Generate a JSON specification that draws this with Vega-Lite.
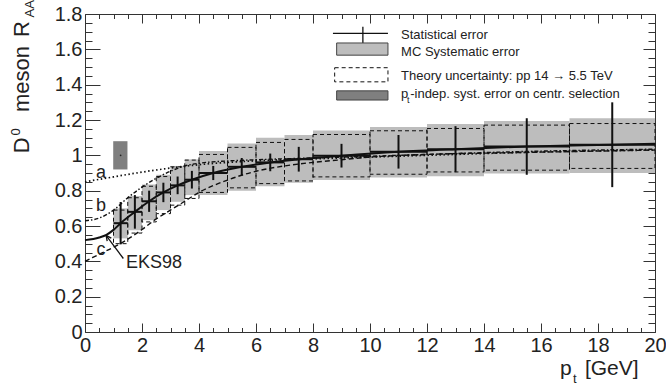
{
 "$schema": "https://vega.github.io/schema/vega-lite/v6.json",
 "width": 570, "height": 318,
 "autosize": {"type": "none"},
 "padding": {"left": 85, "top": 14, "right": 11, "bottom": 53},
 "background": "white",
 "config": {"view": {"stroke": "#333", "strokeWidth": 1}, "font": "Liberation Sans"},
 "datasets": {
  "bins": [
   {"lo":1,"hi":1.5,"pt":1.25,"val":0.616,"statLo":0.496,"statHi":0.736,"mcLo":0.53,"mcHi":0.70,"thLo":0.50,"thHi":0.69},
   {"lo":1.5,"hi":2,"pt":1.75,"val":0.68,"statLo":0.585,"statHi":0.775,"mcLo":0.576,"mcHi":0.77,"thLo":0.56,"thHi":0.76},
   {"lo":2,"hi":2.5,"pt":2.25,"val":0.74,"statLo":0.68,"statHi":0.80,"mcLo":0.633,"mcHi":0.835,"thLo":0.623,"thHi":0.825},
   {"lo":2.5,"hi":3,"pt":2.75,"val":0.79,"statLo":0.735,"statHi":0.845,"mcLo":0.69,"mcHi":0.89,"thLo":0.67,"thHi":0.88},
   {"lo":3,"hi":3.5,"pt":3.25,"val":0.83,"statLo":0.78,"statHi":0.88,"mcLo":0.737,"mcHi":0.94,"thLo":0.718,"thHi":0.935},
   {"lo":3.5,"hi":4,"pt":3.75,"val":0.862,"statLo":0.812,"statHi":0.912,"mcLo":0.775,"mcHi":0.977,"thLo":0.756,"thHi":0.973},
   {"lo":4,"hi":5,"pt":4.5,"val":0.90,"statLo":0.86,"statHi":0.94,"mcLo":0.775,"mcHi":1.024,"thLo":0.79,"thHi":1.005},
   {"lo":5,"hi":6,"pt":5.5,"val":0.935,"statLo":0.885,"statHi":0.985,"mcLo":0.80,"mcHi":1.067,"thLo":0.816,"thHi":1.045},
   {"lo":6,"hi":7,"pt":6.5,"val":0.96,"statLo":0.91,"statHi":1.01,"mcLo":0.825,"mcHi":1.10,"thLo":0.84,"thHi":1.073},
   {"lo":7,"hi":8,"pt":7.5,"val":0.978,"statLo":0.908,"statHi":1.048,"mcLo":0.845,"mcHi":1.115,"thLo":0.855,"thHi":1.09},
   {"lo":8,"hi":10,"pt":9,"val":0.998,"statLo":0.931,"statHi":1.065,"mcLo":0.86,"mcHi":1.14,"thLo":0.878,"thHi":1.118},
   {"lo":10,"hi":12,"pt":11,"val":1.02,"statLo":0.925,"statHi":1.115,"mcLo":0.875,"mcHi":1.16,"thLo":0.893,"thHi":1.139},
   {"lo":12,"hi":14,"pt":13,"val":1.035,"statLo":0.905,"statHi":1.165,"mcLo":0.882,"mcHi":1.177,"thLo":0.906,"thHi":1.152},
   {"lo":14,"hi":17,"pt":15.5,"val":1.05,"statLo":0.89,"statHi":1.21,"mcLo":0.897,"mcHi":1.195,"thLo":0.916,"thHi":1.171},
   {"lo":17,"hi":20,"pt":18.5,"val":1.06,"statLo":0.82,"statHi":1.30,"mcLo":0.90,"mcHi":1.21,"thLo":0.926,"thHi":1.18}
  ],
  "curves": [
   {"c":"EKS98","pt":0,"r":0.52},{"c":"EKS98","pt":0.5,"r":0.535},{"c":"EKS98","pt":0.75,"r":0.55},{"c":"EKS98","pt":1,"r":0.578},{"c":"EKS98","pt":1.25,"r":0.616},{"c":"EKS98","pt":1.75,"r":0.68},{"c":"EKS98","pt":2.25,"r":0.74},{"c":"EKS98","pt":2.75,"r":0.79},{"c":"EKS98","pt":3.25,"r":0.83},{"c":"EKS98","pt":3.75,"r":0.862},{"c":"EKS98","pt":4.5,"r":0.90},{"c":"EKS98","pt":5.5,"r":0.935},{"c":"EKS98","pt":6.5,"r":0.96},{"c":"EKS98","pt":7.5,"r":0.978},{"c":"EKS98","pt":9,"r":0.998},{"c":"EKS98","pt":11,"r":1.02},{"c":"EKS98","pt":13,"r":1.035},{"c":"EKS98","pt":15.5,"r":1.05},{"c":"EKS98","pt":18.5,"r":1.06},{"c":"EKS98","pt":20,"r":1.065},
   {"c":"a","pt":0,"r":0.85},{"c":"a","pt":1,"r":0.878},{"c":"a","pt":2,"r":0.905},{"c":"a","pt":3,"r":0.928},{"c":"a","pt":4,"r":0.947},{"c":"a","pt":5,"r":0.96},{"c":"a","pt":6,"r":0.969},{"c":"a","pt":8,"r":0.98},{"c":"a","pt":10,"r":0.99},{"c":"a","pt":12,"r":1.0},{"c":"a","pt":15,"r":1.015},{"c":"a","pt":20,"r":1.03},
   {"c":"b","pt":0,"r":0.63},{"c":"b","pt":0.5,"r":0.645},{"c":"b","pt":1,"r":0.69},{"c":"b","pt":1.5,"r":0.76},{"c":"b","pt":2,"r":0.82},{"c":"b","pt":2.5,"r":0.87},{"c":"b","pt":3,"r":0.91},{"c":"b","pt":3.5,"r":0.94},{"c":"b","pt":4,"r":0.955},{"c":"b","pt":5,"r":0.968},{"c":"b","pt":6,"r":0.975},{"c":"b","pt":8,"r":0.985},{"c":"b","pt":10,"r":0.995},{"c":"b","pt":12,"r":1.005},{"c":"b","pt":15,"r":1.02},{"c":"b","pt":20,"r":1.035},
   {"c":"c","pt":0,"r":0.40},{"c":"c","pt":0.5,"r":0.44},{"c":"c","pt":1,"r":0.48},{"c":"c","pt":1.5,"r":0.525},{"c":"c","pt":2,"r":0.58},{"c":"c","pt":2.5,"r":0.64},{"c":"c","pt":3,"r":0.69},{"c":"c","pt":3.5,"r":0.74},{"c":"c","pt":4,"r":0.79},{"c":"c","pt":5,"r":0.86},{"c":"c","pt":6,"r":0.91},{"c":"c","pt":7,"r":0.94},{"c":"c","pt":8,"r":0.96},{"c":"c","pt":9,"r":0.975},{"c":"c","pt":10,"r":0.99},{"c":"c","pt":12,"r":1.005},{"c":"c","pt":15,"r":1.015},{"c":"c","pt":20,"r":1.03}
  ]
 },
 "layer": [
  {"data": {"name": "bins"},
   "mark": {"type": "rect", "fill": "#bdbdbd"},
   "encoding": {
    "x": {"field": "lo", "type": "quantitative", "scale": {"domain": [0, 20], "nice": false, "zero": false},
      "axis": {"orient": "bottom", "values": [0,2,4,6,8,10,12,14,16,18,20], "tickSize": -9, "tickColor": "#333", "domain": false, "grid": false, "title": null, "format": "~g", "labelFontSize": 20, "labelFont": "Liberation Sans", "labelColor": "#222", "labelPadding": 12, "labelFlush": false, "labelOverlap": false}},
    "x2": {"field": "hi"},
    "y": {"field": "mcLo", "type": "quantitative", "scale": {"domain": [0, 1.8], "nice": false, "zero": false},
      "axis": {"orient": "left", "values": [0,0.2,0.4,0.6,0.8,1,1.2,1.4,1.6,1.8], "tickSize": -15, "tickColor": "#333", "domain": false, "grid": false, "title": null, "format": "~g", "labelFontSize": 20, "labelFont": "Liberation Sans", "labelColor": "#222", "labelPadding": 18, "labelFlush": false, "labelOverlap": false}},
    "y2": {"field": "mcHi"}
   }},
  {"data": {"values": [{"x1": 0.99, "x2": 1.49, "y1": 0.92, "y2": 1.08}]},
   "mark": {"type": "rect", "fill": "#7f7f7f"},
   "encoding": {
    "x": {"field": "x1", "type": "quantitative", "scale": {"domain": [0, 20], "nice": false, "zero": false}, "axis": null},
    "x2": {"field": "x2"},
    "y": {"field": "y1", "type": "quantitative", "scale": {"domain": [0, 1.8], "nice": false, "zero": false}, "axis": null},
    "y2": {"field": "y2"}
   }},
  {"data": {"values": [{"x": 1.25, "y": 1.0}]},
   "mark": {"type": "point", "filled": true, "size": 3, "color": "#222", "opacity": 1},
   "encoding": {
    "x": {"field": "x", "type": "quantitative", "scale": {"domain": [0, 20], "nice": false, "zero": false}, "axis": null},
    "y": {"field": "y", "type": "quantitative", "scale": {"domain": [0, 1.8], "nice": false, "zero": false}, "axis": null}
   }},
  {"data": {"name": "bins"},
   "mark": {"type": "rect", "fillOpacity": 0, "stroke": "#111", "strokeWidth": 1, "strokeDash": [4, 3]},
   "encoding": {
    "x": {"field": "lo", "type": "quantitative", "scale": {"domain": [0, 20], "nice": false, "zero": false},
      "axis": {"orient": "bottom", "values": [0.5,1,1.5,2.5,3,3.5,4.5,5,5.5,6.5,7,7.5,8.5,9,9.5,10.5,11,11.5,12.5,13,13.5,14.5,15,15.5,16.5,17,17.5,18.5,19,19.5], "tickSize": -4.5, "tickColor": "#333", "labels": false, "domain": false, "grid": false, "title": null}},
    "x2": {"field": "hi"},
    "y": {"field": "thLo", "type": "quantitative", "scale": {"domain": [0, 1.8], "nice": false, "zero": false},
      "axis": {"orient": "left", "values": [0.05,0.1,0.15,0.25,0.3,0.35,0.45,0.5,0.55,0.65,0.7,0.75,0.85,0.9,0.95,1.05,1.1,1.15,1.25,1.3,1.35,1.45,1.5,1.55,1.65,1.7,1.75], "tickSize": -7, "tickColor": "#333", "labels": false, "domain": false, "grid": false, "title": null}},
    "y2": {"field": "thHi"}
   }},
  {"data": {"name": "curves"},
   "transform": [{"filter": "datum.c === 'a'"}],
   "mark": {"type": "line", "color": "#111", "strokeWidth": 1.7, "strokeDash": [1.5, 2.5], "interpolate": "monotone"},
   "encoding": {
    "x": {"field": "pt", "type": "quantitative", "scale": {"domain": [0, 20], "nice": false, "zero": false}, "axis": null},
    "y": {"field": "r", "type": "quantitative", "scale": {"domain": [0, 1.8], "nice": false, "zero": false}, "axis": null}
   }},
  {"data": {"name": "curves"},
   "transform": [{"filter": "datum.c === 'b'"}],
   "mark": {"type": "line", "color": "#111", "strokeWidth": 1.4, "strokeDash": [4, 2, 1.5, 2], "interpolate": "monotone"},
   "encoding": {
    "x": {"field": "pt", "type": "quantitative", "scale": {"domain": [0, 20], "nice": false, "zero": false}, "axis": null},
    "y": {"field": "r", "type": "quantitative", "scale": {"domain": [0, 1.8], "nice": false, "zero": false}, "axis": null}
   }},
  {"data": {"name": "curves"},
   "transform": [{"filter": "datum.c === 'c'"}],
   "mark": {"type": "line", "color": "#111", "strokeWidth": 1.4, "strokeDash": [5, 3], "interpolate": "monotone"},
   "encoding": {
    "x": {"field": "pt", "type": "quantitative", "scale": {"domain": [0, 20], "nice": false, "zero": false}, "axis": null},
    "y": {"field": "r", "type": "quantitative", "scale": {"domain": [0, 1.8], "nice": false, "zero": false}, "axis": null}
   }},
  {"data": {"name": "curves"},
   "transform": [{"filter": "datum.c === 'EKS98'"}],
   "mark": {"type": "line", "color": "#111", "strokeWidth": 2, "interpolate": "monotone"},
   "encoding": {
    "x": {"field": "pt", "type": "quantitative", "scale": {"domain": [0, 20], "nice": false, "zero": false}, "axis": null},
    "y": {"field": "r", "type": "quantitative", "scale": {"domain": [0, 1.8], "nice": false, "zero": false}, "axis": null}
   }},
  {"data": {"name": "bins"},
   "mark": {"type": "rule", "color": "#111", "strokeWidth": 2},
   "encoding": {
    "x": {"field": "pt", "type": "quantitative", "scale": {"domain": [0, 20], "nice": false, "zero": false},
      "axis": {"orient": "top", "values": [0,2,4,6,8,10,12,14,16,18,20], "tickSize": -9, "tickColor": "#333", "labels": false, "domain": false, "grid": false, "title": null}},
    "y": {"field": "statLo", "type": "quantitative", "scale": {"domain": [0, 1.8], "nice": false, "zero": false},
      "axis": {"orient": "right", "values": [0,0.2,0.4,0.6,0.8,1,1.2,1.4,1.6,1.8], "tickSize": -12, "tickColor": "#333", "labels": false, "domain": false, "grid": false, "title": null}},
    "y2": {"field": "statHi"}
   }},
  {"data": {"name": "bins"},
   "mark": {"type": "rule", "color": "#111", "strokeWidth": 2},
   "encoding": {
    "x": {"field": "lo", "type": "quantitative", "scale": {"domain": [0, 20], "nice": false, "zero": false},
      "axis": {"orient": "top", "values": [0.5,1,1.5,2.5,3,3.5,4.5,5,5.5,6.5,7,7.5,8.5,9,9.5,10.5,11,11.5,12.5,13,13.5,14.5,15,15.5,16.5,17,17.5,18.5,19,19.5], "tickSize": -4.5, "tickColor": "#333", "labels": false, "domain": false, "grid": false, "title": null}},
    "x2": {"field": "hi"},
    "y": {"field": "val", "type": "quantitative", "scale": {"domain": [0, 1.8], "nice": false, "zero": false},
      "axis": {"orient": "right", "values": [0.05,0.1,0.15,0.25,0.3,0.35,0.45,0.5,0.55,0.65,0.7,0.75,0.85,0.9,0.95,1.05,1.1,1.15,1.25,1.3,1.35,1.45,1.5,1.55,1.65,1.7,1.75], "tickSize": -7, "tickColor": "#333", "labels": false, "domain": false, "grid": false, "title": null}}
   }},
  {"data": {"values": [
     {"x1": 8.70, "x2": 10.63, "y1": 1.69, "y2": 1.69},
     {"x1": 9.75, "x2": 9.75, "y1": 1.728, "y2": 1.634},
     {"x1": 1.345, "x2": 0.74, "y1": 0.416, "y2": 0.547},
     {"x1": 0.74, "x2": 0.779, "y1": 0.547, "y2": 0.514},
     {"x1": 0.74, "x2": 0.923, "y1": 0.547, "y2": 0.531}
   ]},
   "mark": {"type": "rule", "color": "#111", "strokeWidth": 1.3},
   "encoding": {
    "x": {"field": "x1", "type": "quantitative", "scale": {"domain": [0, 20], "nice": false, "zero": false}, "axis": null},
    "x2": {"field": "x2"},
    "y": {"field": "y1", "type": "quantitative", "scale": {"domain": [0, 1.8], "nice": false, "zero": false}, "axis": null},
    "y2": {"field": "y2"}
   }},
  {"data": {"values": [{"x1": 8.83, "x2": 10.63, "y1": 1.567, "y2": 1.636}]},
   "mark": {"type": "rect", "fill": "#bdbdbd", "stroke": "#444", "strokeWidth": 1},
   "encoding": {
    "x": {"field": "x1", "type": "quantitative", "scale": {"domain": [0, 20], "nice": false, "zero": false}, "axis": null},
    "x2": {"field": "x2"},
    "y": {"field": "y1", "type": "quantitative", "scale": {"domain": [0, 1.8], "nice": false, "zero": false}, "axis": null},
    "y2": {"field": "y2"}
   }},
  {"data": {"values": [{"x1": 8.76, "x2": 10.63, "y1": 1.416, "y2": 1.496}]},
   "mark": {"type": "rect", "fill": "white", "stroke": "#111", "strokeWidth": 1, "strokeDash": [4, 3]},
   "encoding": {
    "x": {"field": "x1", "type": "quantitative", "scale": {"domain": [0, 20], "nice": false, "zero": false}, "axis": null},
    "x2": {"field": "x2"},
    "y": {"field": "y1", "type": "quantitative", "scale": {"domain": [0, 1.8], "nice": false, "zero": false}, "axis": null},
    "y2": {"field": "y2"}
   }},
  {"data": {"values": [{"x1": 8.83, "x2": 10.63, "y1": 1.313, "y2": 1.365}]},
   "mark": {"type": "rect", "fill": "#7f7f7f", "stroke": "#444", "strokeWidth": 1},
   "encoding": {
    "x": {"field": "x1", "type": "quantitative", "scale": {"domain": [0, 20], "nice": false, "zero": false}, "axis": null},
    "x2": {"field": "x2"},
    "y": {"field": "y1", "type": "quantitative", "scale": {"domain": [0, 1.8], "nice": false, "zero": false}, "axis": null},
    "y2": {"field": "y2"}
   }},
  {"data": {"values": [
     {"t": "Statistical error", "x": 11.09, "y": 1.68},
     {"t": "MC Systematic error", "x": 11.09, "y": 1.585},
     {"t": "Theory uncertainty: pp 14 → 5.5 TeV", "x": 11.09, "y": 1.449},
     {"t": "p", "x": 11.09, "y": 1.347},
     {"t": "-indep. syst. error on centr. selection", "x": 11.41, "y": 1.347}
   ]},
   "mark": {"type": "text", "align": "left", "baseline": "middle", "fontSize": 13, "font": "Liberation Sans", "color": "#222"},
   "encoding": {
    "x": {"field": "x", "type": "quantitative", "scale": {"domain": [0, 20], "nice": false, "zero": false}, "axis": null},
    "y": {"field": "y", "type": "quantitative", "scale": {"domain": [0, 1.8], "nice": false, "zero": false}, "axis": null},
    "text": {"field": "t"}
   }},
  {"data": {"values": [{"t": "t", "x": 11.30, "y": 1.316}]},
   "mark": {"type": "text", "align": "left", "baseline": "middle", "fontSize": 9, "font": "Liberation Sans", "color": "#222"},
   "encoding": {
    "x": {"field": "x", "type": "quantitative", "scale": {"domain": [0, 20], "nice": false, "zero": false}, "axis": null},
    "y": {"field": "y", "type": "quantitative", "scale": {"domain": [0, 1.8], "nice": false, "zero": false}, "axis": null},
    "text": {"field": "t"}
   }},
  {"data": {"values": [
     {"t": "a", "x": 0.56, "y": 0.90},
     {"t": "b", "x": 0.56, "y": 0.711},
     {"t": "c", "x": 0.56, "y": 0.462}
   ]},
   "mark": {"type": "text", "align": "center", "baseline": "middle", "fontSize": 18, "font": "Liberation Sans", "color": "#222"},
   "encoding": {
    "x": {"field": "x", "type": "quantitative", "scale": {"domain": [0, 20], "nice": false, "zero": false}, "axis": null},
    "y": {"field": "y", "type": "quantitative", "scale": {"domain": [0, 1.8], "nice": false, "zero": false}, "axis": null},
    "text": {"field": "t"}
   }},
  {"data": {"values": [
     {"t": "EKS98", "x": 1.44, "y": 0.389}
   ]},
   "mark": {"type": "text", "align": "left", "baseline": "middle", "fontSize": 18, "font": "Liberation Sans", "color": "#222"},
   "encoding": {
    "x": {"field": "x", "type": "quantitative", "scale": {"domain": [0, 20], "nice": false, "zero": false}, "axis": null},
    "y": {"field": "y", "type": "quantitative", "scale": {"domain": [0, 1.8], "nice": false, "zero": false}, "axis": null},
    "text": {"field": "t"}
   }},
  {"data": {"values": [
     {"t": "p", "x": 16.67, "y": -0.245},
     {"t": "[GeV]", "x": 17.54, "y": -0.245}
   ]},
   "mark": {"type": "text", "align": "left", "baseline": "alphabetic", "fontSize": 21, "font": "Liberation Sans", "color": "#222"},
   "encoding": {
    "x": {"field": "x", "type": "quantitative", "scale": {"domain": [0, 20], "nice": false, "zero": false}, "axis": null},
    "y": {"field": "y", "type": "quantitative", "scale": {"domain": [0, 1.8], "nice": false, "zero": false}, "axis": null},
    "text": {"field": "t"}
   }},
  {"data": {"values": [
     {"t": "t", "x": 17.12, "y": -0.29}
   ]},
   "mark": {"type": "text", "align": "left", "baseline": "alphabetic", "fontSize": 13, "font": "Liberation Sans", "color": "#222"},
   "encoding": {
    "x": {"field": "x", "type": "quantitative", "scale": {"domain": [0, 20], "nice": false, "zero": false}, "axis": null},
    "y": {"field": "y", "type": "quantitative", "scale": {"domain": [0, 1.8], "nice": false, "zero": false}, "axis": null},
    "text": {"field": "t"}
   }},
  {"data": {"values": [
     {"t": "D", "x": -1.965, "y": 1.0125},
     {"t": "meson", "x": -1.965, "y": 1.245},
     {"t": "R", "x": -1.965, "y": 1.67}
   ]},
   "mark": {"type": "text", "align": "left", "baseline": "alphabetic", "angle": 270, "fontSize": 22, "font": "Liberation Sans", "color": "#222"},
   "encoding": {
    "x": {"field": "x", "type": "quantitative", "scale": {"domain": [0, 20], "nice": false, "zero": false}, "axis": null},
    "y": {"field": "y", "type": "quantitative", "scale": {"domain": [0, 1.8], "nice": false, "zero": false}, "axis": null},
    "text": {"field": "t"}
   }},
  {"data": {"values": [
     {"t": "0", "x": -2.28, "y": 1.112},
     {"t": "AA", "x": -1.78, "y": 1.78}
   ]},
   "mark": {"type": "text", "align": "left", "baseline": "alphabetic", "angle": 270, "fontSize": 13, "font": "Liberation Sans", "color": "#222"},
   "encoding": {
    "x": {"field": "x", "type": "quantitative", "scale": {"domain": [0, 20], "nice": false, "zero": false}, "axis": null},
    "y": {"field": "y", "type": "quantitative", "scale": {"domain": [0, 1.8], "nice": false, "zero": false}, "axis": null},
    "text": {"field": "t"}
   }}
 ],
 "resolve": {"axis": {"x": "independent", "y": "independent"}}
}
